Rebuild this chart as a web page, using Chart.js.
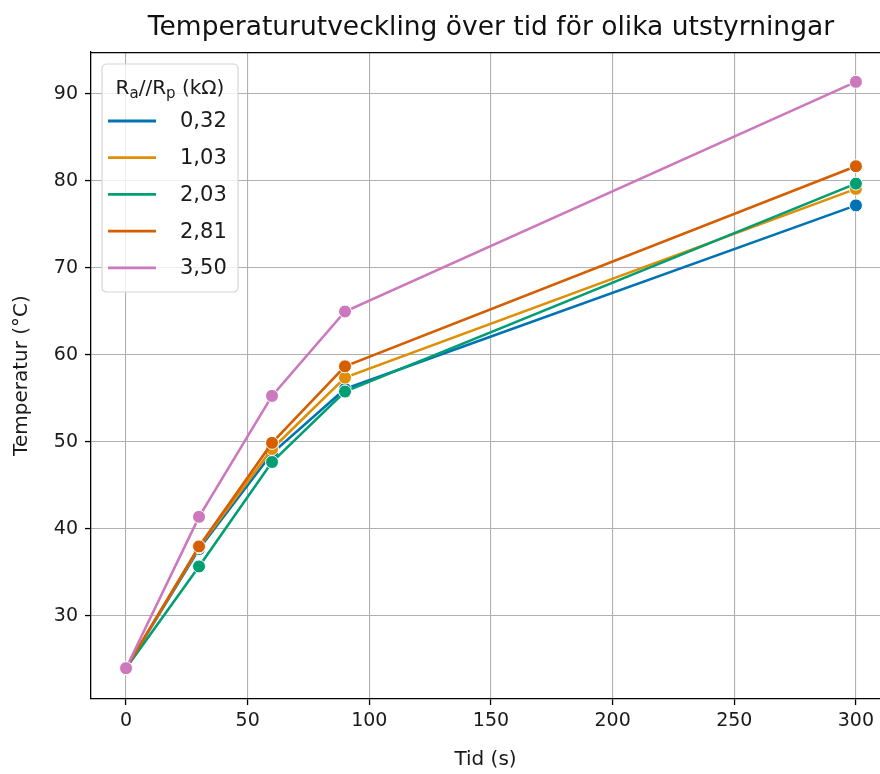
<!DOCTYPE html>
<html><head><meta charset="utf-8">
<script src="https://cdn.jsdelivr.net/npm/chart.js@4.4.1/dist/chart.umd.min.js"></script>
<style>html,body{margin:0;padding:0;background:#fff;}#wrap{width:880px;height:774px;position:relative;}</style>
</head><body><div id="wrap"><canvas id="c" width="880" height="774"></canvas></div>
<script>
const times = [0, 30, 60, 90, 300];
const seriesLabels = ['0,32', '1,03', '2,03', '2,81', '3,50'];
const s032 = [24.0, 37.7, 48.7, 56.1, 77.2];
const s103 = [24.0, 37.9, 49.2, 57.4, 79.1];
const s203 = [24.0, 35.7, 47.7, 55.8, 79.7];
const s281 = [24.0, 38.0, 49.9, 58.7, 81.7];
const s350 = [24.0, 41.4, 55.3, 65.0, 91.4];
const xTicks = [0, 50, 100, 150, 200, 250, 300];
const yTicks = [30, 40, 50, 60, 70, 80, 90];
const titleText = 'Temperaturutveckling över tid för olika utstyrningar';
const xTitle = 'Tid (s)';
const yTitle = 'Temperatur (°C)';
// legend title "Ra//Rp (kΩ)" with a and p as subscripts: [text, isSubscript]
const legendTitleParts = [['R', false], ['a', true], ['//R', false], ['p', true], [' (kΩ)', false]];
const colors = ['#0173b2', '#de8f05', '#029e73', '#d55e00', '#cc78bc'];

const allSeries = [s032, s103, s203, s281, s350];
const FONT = "'DejaVu Sans', sans-serif";

const datasets = allSeries.map((s, i) => ({
  label: seriesLabels[i],
  data: times.map((t, j) => ({x: t, y: s[j]})),
  borderColor: colors[i],
  backgroundColor: colors[i],
  borderWidth: 2.6,
  pointRadius: 6.5,
  pointHoverRadius: 6.5,
  pointBorderColor: '#ffffff',
  pointBorderWidth: 1,
  pointBackgroundColor: colors[i],
  order: allSeries.length - 1 - i,
  tension: 0,
  fill: false
}));

function drawRich(ctx, parts, cx, cy, size, subSize) {
  const widths = parts.map(([t, sub]) => {
    ctx.font = (sub ? subSize : size) + 'px ' + FONT;
    return ctx.measureText(t).width;
  });
  const total = widths.reduce((a, b) => a + b, 0);
  let x = cx - total / 2;
  ctx.textAlign = 'left'; ctx.textBaseline = 'alphabetic';
  parts.forEach(([t, sub], k) => {
    ctx.font = (sub ? subSize : size) + 'px ' + FONT;
    ctx.fillText(t, x, cy + (sub ? size * 0.2 : 0));
    x += widths[k];
  });
}

const decor = {
  id: 'decor',
  afterDatasetsDraw(chart) {
    const {ctx, chartArea: a} = chart;
    ctx.save();
    ctx.strokeStyle = '#000'; ctx.lineWidth = 1.25;
    ctx.beginPath(); ctx.moveTo(a.left, a.top + 0.5); ctx.lineTo(a.right, a.top + 0.5); ctx.stroke();
    const lx = a.left + 11, ly = a.top + 12, lw = 136, lh = 228, r = 5;
    ctx.fillStyle = 'rgba(255,255,255,0.8)';
    ctx.strokeStyle = '#d6d6d6'; ctx.lineWidth = 1.2;
    ctx.beginPath();
    ctx.moveTo(lx + r, ly); ctx.lineTo(lx + lw - r, ly); ctx.quadraticCurveTo(lx + lw, ly, lx + lw, ly + r);
    ctx.lineTo(lx + lw, ly + lh - r); ctx.quadraticCurveTo(lx + lw, ly + lh, lx + lw - r, ly + lh);
    ctx.lineTo(lx + r, ly + lh); ctx.quadraticCurveTo(lx, ly + lh, lx, ly + lh - r);
    ctx.lineTo(lx, ly + r); ctx.quadraticCurveTo(lx, ly, lx + r, ly);
    ctx.closePath(); ctx.fill(); ctx.stroke();
    ctx.fillStyle = '#1a1a1a';
    drawRich(ctx, legendTitleParts, lx + lw / 2, ly + 30, 20, 15);
    ctx.font = '21px ' + FONT;
    ctx.textBaseline = 'middle';
    chart.data.datasets.forEach((ds, i) => {
      const yy = ly + 57 + i * 36.7;
      ctx.strokeStyle = ds.borderColor; ctx.lineWidth = 2.8;
      ctx.beginPath(); ctx.moveTo(lx + 6, yy); ctx.lineTo(lx + 54, yy); ctx.stroke();
      ctx.fillStyle = '#1a1a1a'; ctx.textAlign = 'left';
      ctx.fillText(ds.label, lx + 78, yy + 1);
    });
    ctx.restore();
  },
  afterDraw(chart) {
    const {ctx, scales} = chart;
    ctx.save();
    ctx.fillStyle = '#111';
    ctx.font = '26.5px ' + FONT;
    ctx.textAlign = 'center'; ctx.textBaseline = 'middle';
    ctx.fillText(titleText, scales.x.getPixelForValue(150), 28);
    ctx.restore();
  }
};

new Chart(document.getElementById('c'), {
  type: 'line',
  data: {datasets},
  options: {
    responsive: false,
    animation: false,
    devicePixelRatio: 1,
    layout: {autoPadding: false, padding: {top: 52, right: 0, left: 0, bottom: 0}},
    plugins: {legend: {display: false}, title: {display: false}, tooltip: {enabled: false}},
    events: [],
    scales: {
      x: {
        type: 'linear', min: -14.4, max: 309.9,
        afterFit(s) { s.height = 75; s.paddingLeft = 0; s.paddingRight = 0; },
        afterBuildTicks(s) { s.ticks = xTicks.map(v => ({value: v})); },
        grid: {color: '#b0b0b0', lineWidth: 1.1, drawTicks: true, tickLength: 6, tickColor: '#000', tickWidth: 1.3},
        border: {color: '#000', width: 1.3},
        ticks: {font: {family: FONT, size: 19}, color: '#1a1a1a', padding: 5, maxRotation: 0, autoSkip: false},
        title: {display: true, text: xTitle, font: {family: FONT, size: 20}, color: '#1a1a1a', padding: {top: 0, bottom: 2}}
      },
      y: {
        type: 'linear', min: 20.46, max: 94.83,
        afterFit(s) { s.width = 91; s.paddingTop = 0; s.paddingBottom = 0; },
        afterBuildTicks(s) { s.ticks = yTicks.map(v => ({value: v})); },
        grid: {color: '#b0b0b0', lineWidth: 1.1, drawTicks: true, tickLength: 6, tickColor: '#000', tickWidth: 1.3},
        border: {color: '#000', width: 1.3},
        ticks: {font: {family: FONT, size: 19}, color: '#1a1a1a', padding: 7, autoSkip: false},
        title: {display: true, text: yTitle, font: {family: FONT, size: 20}, color: '#1a1a1a', padding: {top: 10, bottom: 0}}
      }
    }
  },
  plugins: [decor]
});
</script></body></html>
